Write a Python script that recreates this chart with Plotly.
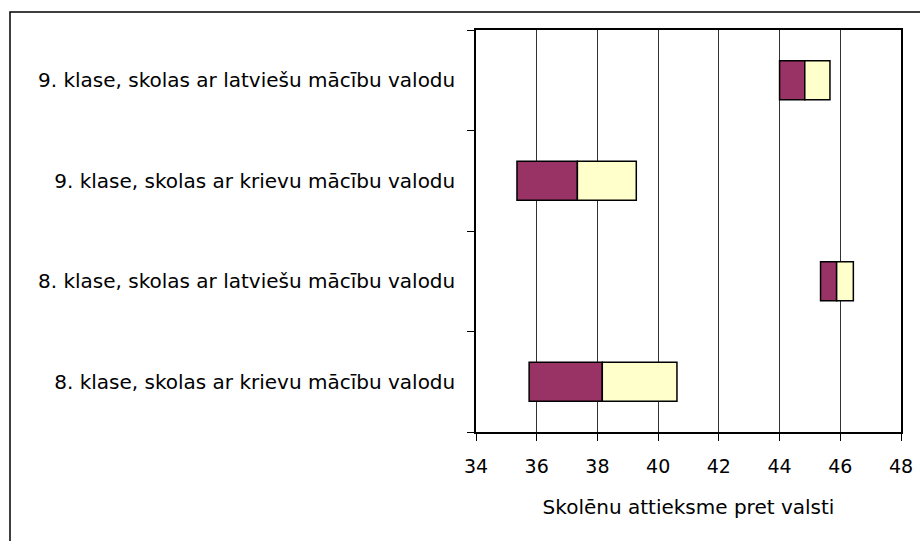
import plotly.graph_objects as go

categories = [
    "8. klase, skolas ar krievu mācību valodu",
    "8. klase, skolas ar latviešu mācību valodu",
    "9. klase, skolas ar krievu mācību valodu",
    "9. klase, skolas ar latviešu mācību valodu",
]
lower = [35.75, 45.35, 35.35, 44.0]
middle = [38.16, 45.88, 37.34, 44.83]
upper = [40.62, 46.43, 39.28, 45.66]

x_ticks = [34, 36, 38, 40, 42, 44, 46, 48]
x_title = "Skolēnu attieksme pret valsti"

seg1 = [m - l for l, m in zip(lower, middle)]
seg2 = [u - m for m, u in zip(middle, upper)]

font_family = "DejaVu Sans, Liberation Sans, Arial, sans-serif"

fig = go.Figure()
fig.add_trace(go.Bar(
    y=categories, x=seg1, base=lower, orientation="h",
    marker=dict(color="#993366", line=dict(color="#000000", width=1.5)),
    showlegend=False, hoverinfo="skip",
))
fig.add_trace(go.Bar(
    y=categories, x=seg2, base=middle, orientation="h",
    marker=dict(color="#FFFFCC", line=dict(color="#000000", width=1.5)),
    showlegend=False, hoverinfo="skip",
))

W, H = 920, 541
L, R, T, B = 476, 920 - 901, 30, 541 - 432
pw = W - L - R
ph = H - T - B

fig.update_layout(
    width=W, height=H,
    margin=dict(l=L, r=R, t=T, b=B, pad=0, autoexpand=False),
    paper_bgcolor="white", plot_bgcolor="white",
    barmode="overlay",
    bargap=0.61,
    font=dict(family=font_family, size=19, color="#000000"),
    xaxis=dict(
        range=[34, 48], tickvals=x_ticks, ticktext=[str(v) for v in x_ticks],
        automargin=False,
        showgrid=True, gridcolor="#333333", gridwidth=1,
        showline=True, linecolor="#000000", linewidth=1.5, mirror=True,
        ticks="outside", ticklen=7, tickcolor="#000000", tickwidth=1,
        zeroline=False,
        ticklabelstandoff=9,
        title=dict(text=x_title, font=dict(size=20), standoff=24),
        tickfont=dict(size=19),
    ),
    yaxis=dict(
        type="category", categoryorder="array", categoryarray=categories,
        range=[-0.5, 3.5],
        automargin=False,
        showgrid=False,
        showline=True, linecolor="#000000", linewidth=1.5, mirror=True,
        ticks="outside", ticklen=7, tickcolor="#000000", tickwidth=1,
        tickson="boundaries",
        ticklabelstandoff=15,
        tickfont=dict(size=20),
    ),
    shapes=[dict(
        type="rect", xref="paper", yref="paper",
        x0=(10 - L) / pw, x1=(935 - L) / pw,
        y0=(H - B - 560) / ph, y1=(H - B - 12) / ph,
        line=dict(color="#000000", width=1.5), fillcolor="rgba(0,0,0,0)",
        layer="below",
    )],
)

fig.write_html(
    "out.html",
    config={"displayModeBar": False},
    post_script="document.body.style.margin='0';document.body.style.overflow='hidden';",
)
